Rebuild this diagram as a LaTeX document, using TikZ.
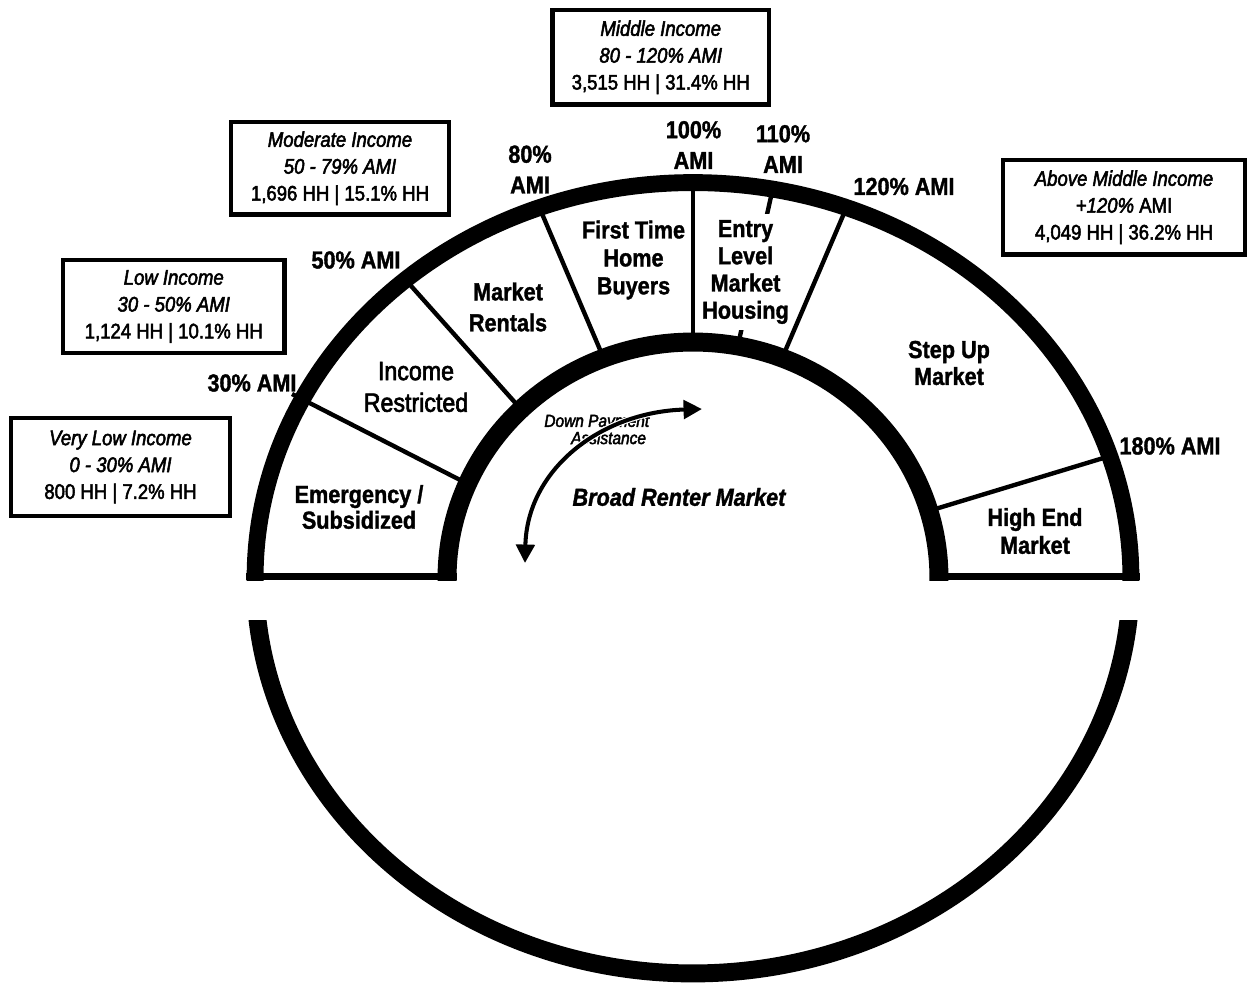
\documentclass[tikz,border=0pt]{standalone}
\usepackage{fontspec}
\setmainfont{Liberation Sans}[FakeStretch=0.88,
  UprightFeatures={FakeBold=2.4}, ItalicFeatures={FakeBold=2.4},
  BoldFeatures={FakeBold=1.4}, BoldItalicFeatures={FakeBold=1.4}]
\usetikzlibrary{arrows.meta}
\begin{document}
\begin{tikzpicture}[x=0.02cm, y=-0.02cm,
  box/.style={draw, line width=2.8pt, align=center, inner sep=0pt, font=\fontsize{12}{15.3}\selectfont},
  pct/.style={align=center, inner sep=0pt, font=\bfseries\fontsize{14}{17.5}\selectfont},
  seg/.style={align=center, inner sep=0pt, font=\bfseries\fontsize{14}{15.5}\selectfont},
  divider/.style={line width=2.5pt},
  baseband/.style={line width=4pt},
  outerband/.style={line width=9.6pt},
  innerband/.style={line width=10.8pt},
  tri/.style={{Triangle[length=10.5pt,width=10.5pt]}-{Triangle[length=10.5pt,width=10.5pt]}}
]
\useasboundingbox (0,0) rectangle (1250,984);

% info boxes
\node[box, minimum width=4.33cm, minimum height=1.89cm] (mid) at (660.75,57.25) {\textit{Middle Income}\\\textit{80 - 120\% AMI}\\3,515 HH | 31.4\% HH};
\node[box, minimum width=4.36cm, minimum height=1.85cm] (mod) at (340,168.25) {\textit{Moderate Income}\\\textit{50 - 79\% AMI}\\1,696 HH | 15.1\% HH};
\node[box, minimum width=4.43cm, minimum height=1.86cm] (low) at (173.75,306.5) {\textit{Low Income}\\\textit{30 - 50\% AMI}\\1,124 HH | 10.1\% HH};
\node[box, minimum width=4.38cm, minimum height=1.96cm] (vlow) at (120.5,467) {\textit{Very Low Income}\\\textit{0 - 30\% AMI}\\800 HH | 7.2\% HH};
\node[box, minimum width=4.84cm, minimum height=1.89cm] (above) at (1124,207.25) {\textit{Above Middle Income}\\\textit{+120\%} AMI\\4,049 HH | 36.2\% HH};

% threshold labels (partly hidden by the ring)
\node[pct] (p30) at (252,383) {30\% AMI};
\node[pct] (p50) at (356,260) {50\% AMI};
\node[pct] (p80) at (530,169.5) {80\%\\AMI};
\node[pct] (p100) at (693.5,145) {100\%\\AMI};
\node[pct] (p110) at (783,149) {110\%\\AMI};
\node[pct] (p120) at (904,186.5) {120\% AMI};
\node[pct] (p180) at (1170,446) {180\% AMI};

% dividers
\coordinate (d30o) at (292,394);  \coordinate (d30i) at (466,483);
\coordinate (d50o) at (404,278);  \coordinate (d50i) at (519,407);
\coordinate (d80o) at (537,202);  \coordinate (d80i) at (604,359);
\coordinate (d100o) at (693,183); \coordinate (d100i) at (693,345);
\coordinate (d110o) at (774,183); \coordinate (d110i) at (738,345);
\coordinate (d120o) at (848,204); \coordinate (d120i) at (783,356);
\coordinate (d180o) at (1110,456);\coordinate (d180i) at (932,510);
\draw[divider] (d30o) -- (d30i);
\draw[divider] (d50o) -- (d50i);
\draw[divider] (d80o) -- (d80i);
\draw[divider] (d100o) -- (d100i);
\draw[divider] (d110o) -- (d110i);
\draw[divider] (d120o) -- (d120i);
\draw[divider] (d180o) -- (d180i);

% entry level label with white background (hides part of 110% line)
\node[seg, fill=white, inner xsep=1pt, inner ysep=3.5pt] (entry) at (745.5,272) {Entry\\Level\\Market\\Housing};

% ring
\coordinate (ctr) at (693,578);
\begin{scope}
  \clip (0,0) rectangle (1250,580);
  \draw[outerband] (ctr) ellipse [x radius=8.76cm, y radius=7.91cm];
  \draw[innerband] (ctr) ellipse [x radius=4.92cm, y radius=4.72cm];
\end{scope}
\coordinate (bl1) at (246,576.5);  \coordinate (bl2) at (456.5,576.5);
\coordinate (br1) at (929.5,576.5); \coordinate (br2) at (1140,576.5);
\draw[baseband] (bl1) -- (bl2);
\draw[baseband] (br1) -- (br2);

% lower half
\begin{scope}
  \clip (0,620) rectangle (1250,990);
  \draw[line width=10.2pt] (ctr) ellipse [x radius=8.76cm, y radius=7.91cm];
\end{scope}

% segment labels
\node[seg, font=\bfseries\fontsize{14}{14.7}\selectfont] (emer) at (359,507) {Emergency /\\Subsidized};
\node[align=center, inner sep=0pt, font=\fontsize{15}{18}\selectfont] (incr) at (416,387) {Income\\Restricted};
\node[seg, font=\bfseries\fontsize{14}{17.6}\selectfont] (mktr) at (508,307) {Market\\Rentals};
\node[seg, font=\bfseries\fontsize{14}{15.9}\selectfont] (fthb) at (633.5,260) {First Time\\Home\\Buyers};
\node[seg, font=\bfseries\fontsize{14}{15.3}\selectfont] (step) at (949,363) {Step Up\\Market};
\node[seg, font=\bfseries\fontsize{14}{15.9}\selectfont] (high) at (1035,531) {High End\\Market};
\node[inner sep=0pt, font=\bfseries\itshape\fontsize{14}{17}\selectfont] (brm) at (679,497) {Broad Renter Market};
\node[anchor=west, align=left, inner sep=0pt, font=\itshape\fontsize{10}{9.8}\selectfont] (dpa) at (544,429.5) {Down Payment\\\hspace*{15.3pt}Assistance};

% down payment arrow
\coordinate (arrA) at (525,563);
\coordinate (arrB) at (702,409);
\draw[white, line width=3.6pt, shorten <=10pt, shorten >=10pt] (arrA) .. controls (527,470) and (600,412) .. (arrB);
\draw[line width=2.3pt, tri] (arrA) .. controls (527,470) and (600,412) .. (arrB);
\end{tikzpicture}
\end{document}
